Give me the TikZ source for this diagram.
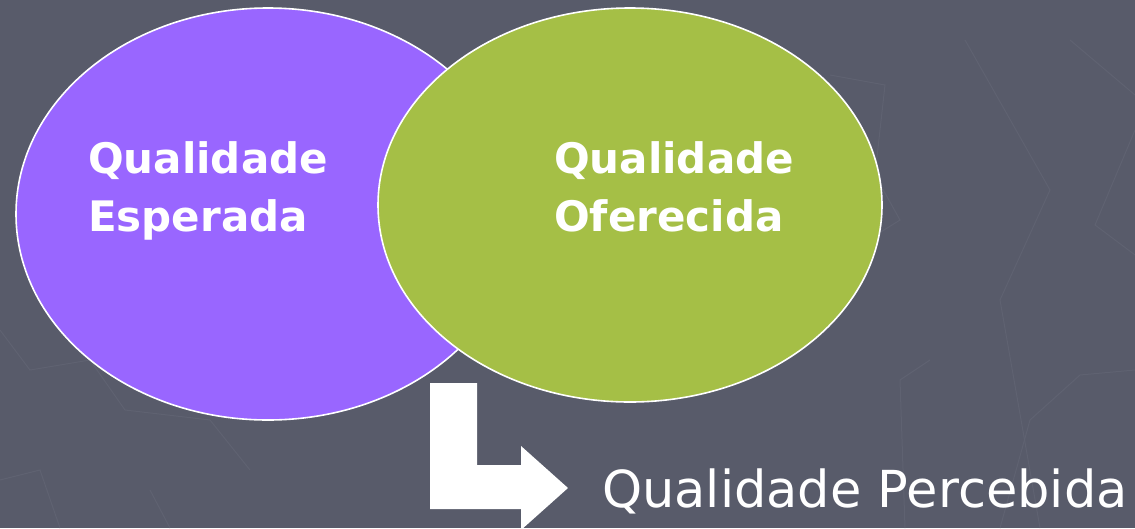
\documentclass[tikz,border=0pt]{standalone}
\usepackage{fontspec}
\setmainfont{DejaVu Sans}
\usetikzlibrary{shapes.geometric}
\definecolor{bgc}{HTML}{585B6A}
\definecolor{purp}{HTML}{9966FF}
\definecolor{grn}{HTML}{A5BF46}
\definecolor{faint}{HTML}{5F6271}
\begin{document}
\begin{tikzpicture}[x=1pt,y=-1pt,
  blob/.style={ellipse,draw=white,line width=1.6pt,inner sep=0pt,minimum width=504pt},
  boldlbl/.style={anchor=base west,text=white,align=left,font=\fontsize{42}{58}\selectfont\bfseries,inner sep=0pt},
  plainlbl/.style={anchor=base west,text=white,font=\fontsize{51}{60}\selectfont,inner sep=0pt}]
\useasboundingbox (0,0) rectangle (1135,528);
\fill[bgc] (0,0) rectangle (1135,528);
% faint background lines
\begin{scope}[draw=faint,line width=1pt]
\draw (965,40) -- (1050,190) -- (1000,300) -- (1040,528);
\draw (1070,40) -- (1135,95);
\draw (1135,130) -- (1095,225) -- (1135,255);
\draw (830,75) -- (885,85) -- (875,175) -- (900,220) -- (860,245);
\draw (0,330) -- (30,370) -- (90,360) -- (125,410) -- (210,420) -- (250,470);
\draw (1135,370) -- (1080,375) -- (1030,420) -- (1000,528);
\draw (930,360) -- (900,380) -- (905,528);
\draw (0,480) -- (40,470) -- (60,528);
\draw (150,490) -- (170,528);
\end{scope}
\node[blob,fill=purp,minimum height=412pt] (esp) at (268,214) {};
\node[blob,fill=grn,minimum height=394pt] (ofe) at (630,205) {};
\node[boldlbl] (t1) at (88,231) {Qualidade\\Esperada};
\node[boldlbl] (t2) at (554,231) {Qualidade\\Oferecida};
\coordinate (a1) at (430,383);
\fill[white] (a1) -- (477,383) -- (477,465) -- (521,465) -- (521,446) -- (568,488)
  -- (521,530) -- (521,509) -- (430,509) -- cycle;
\node[plainlbl] (t3) at (602,507) {Qualidade Percebida};
\end{tikzpicture}
\end{document}
